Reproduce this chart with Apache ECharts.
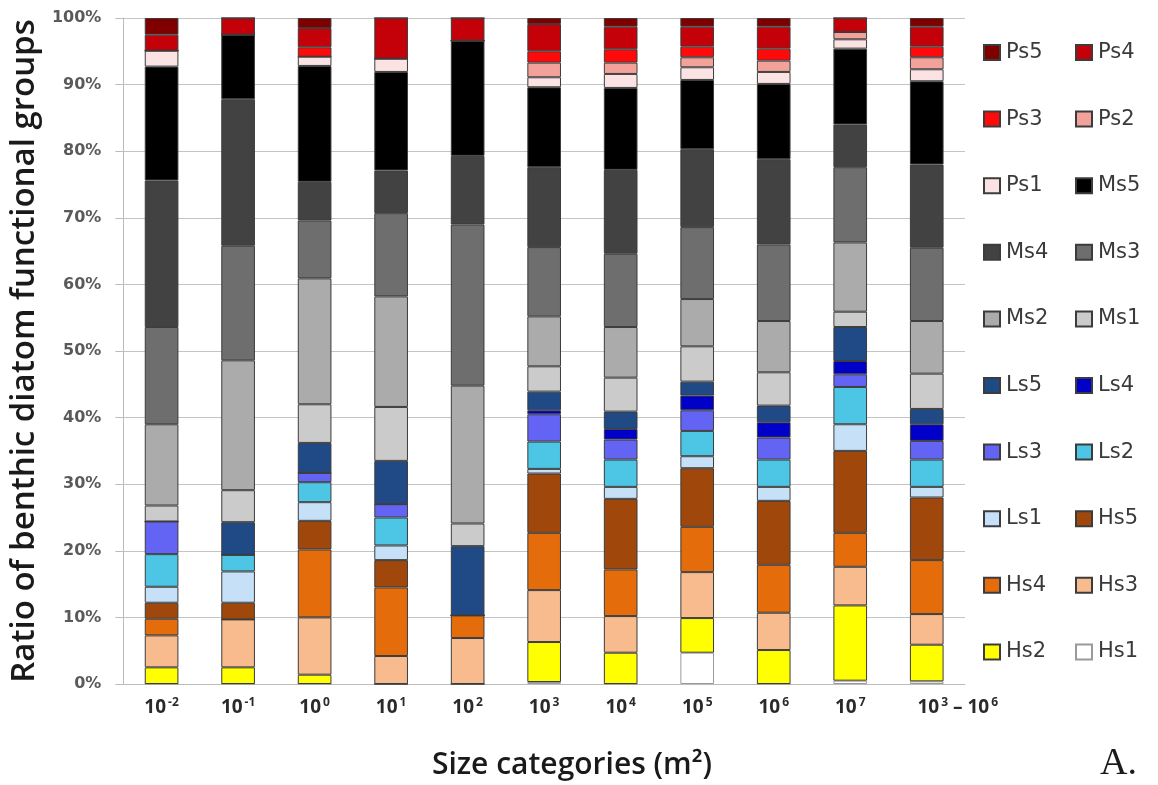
<!DOCTYPE html>
<html>
<head>
<meta charset="utf-8">
<script src="https://cdn.jsdelivr.net/npm/echarts@6/dist/echarts.min.js"></script>
<style>
html,body{margin:0;padding:0;background:#fff;}
#chart{width:1158px;height:785px;}
</style>
</head>
<body>
<div id="chart"></div>
<script>
// Categories: base^exponent; last one is a range
const categories = ['10^-2','10^-1','10^0','10^1','10^2','10^3','10^4','10^5','10^6','10^7','10^3-10^6'];
const yTicks = [0,10,20,30,40,50,60,70,80,90,100];

// Series values (% of total), one value per category
const Hs1 = [0, 0, 0, 0, 0, 0.3, 0, 4.7, 0, 0.5, 0.4];
const Hs2 = [2.5, 2.5, 1.4, 0, 0, 6.0, 4.7, 5.2, 5.1, 11.3, 5.5];
const Hs3 = [4.8, 7.2, 8.6, 4.2, 6.9, 7.8, 5.5, 6.9, 5.6, 5.8, 4.6];
const Hs4 = [2.5, 0, 10.2, 10.3, 3.4, 8.6, 7.0, 6.8, 7.2, 5.1, 8.1];
const Hs5 = [2.4, 2.5, 4.3, 4.1, 0, 8.9, 10.6, 8.8, 9.6, 12.3, 9.4];
const Ls1 = [2.4, 4.7, 2.8, 2.2, 0, 0.7, 1.8, 1.8, 2.1, 4.0, 1.6];
const Ls2 = [4.9, 2.5, 3.0, 4.2, 0, 4.1, 4.1, 3.8, 4.1, 5.6, 4.1];
const Ls3 = [4.9, 0, 1.4, 2.0, 0, 4.1, 3.0, 3.1, 3.3, 1.9, 2.8];
const Ls4 = [0, 0, 0, 0, 0, 0.6, 1.6, 2.2, 2.3, 2.0, 2.5];
const Ls5 = [0, 4.9, 4.5, 6.5, 10.4, 2.8, 2.6, 2.1, 2.5, 5.1, 2.3];
const Ms1 = [2.4, 4.8, 5.8, 8.1, 3.4, 3.8, 5.1, 5.3, 5.0, 2.3, 5.3];
const Ms2 = [12.2, 19.5, 18.9, 16.6, 20.7, 7.5, 7.6, 7.1, 7.7, 10.4, 7.9];
const Ms3 = [14.6, 17.2, 8.7, 12.5, 24.2, 10.4, 11.0, 10.8, 11.5, 11.3, 11.0];
const Ms4 = [22.0, 22.0, 5.8, 6.4, 10.3, 12.0, 12.6, 11.7, 12.8, 6.4, 12.5];
const Ms5 = [17.1, 9.7, 17.4, 14.8, 17.3, 12.0, 12.3, 10.4, 11.3, 11.4, 12.5];
const Ps1 = [2.4, 0, 1.4, 2.0, 0, 1.5, 2.1, 1.9, 1.8, 1.4, 1.8];
const Ps2 = [0, 0, 0, 0, 0, 2.2, 1.7, 1.5, 1.7, 1.1, 1.8];
const Ps3 = [0, 0, 1.4, 0, 0, 1.7, 2.0, 1.6, 1.8, 0, 1.6];
const Ps4 = [2.4, 2.5, 2.9, 6.1, 3.4, 4.1, 3.4, 3.0, 3.3, 2.1, 3.0];
const Ps5 = [2.5, 0, 1.5, 0, 0, 0.9, 1.3, 1.3, 1.3, 0, 1.3];

const seriesNames = ['Hs1','Hs2','Hs3','Hs4','Hs5','Ls1','Ls2','Ls3','Ls4','Ls5','Ms1','Ms2','Ms3','Ms4','Ms5','Ps1','Ps2','Ps3','Ps4','Ps5'];
const seriesValues = [Hs1,Hs2,Hs3,Hs4,Hs5,Ls1,Ls2,Ls3,Ls4,Ls5,Ms1,Ms2,Ms3,Ms4,Ms5,Ps1,Ps2,Ps3,Ps4,Ps5];
const seriesColors = ['#ffffff','#ffff00','#f8bb8e','#e46c0a','#a0480c',
  '#c6e0f8','#4cc6e4','#6464f4','#0000c8','#1f4a86',
  '#cbcbcb','#ababab','#6e6e6e','#424242','#000000',
  '#fbe3e3','#f2a29a','#ff0a0a','#c40008','#800000'];

const legendCol1 = ['Ps5','Ps3','Ps1','Ms4','Ms2','Ls5','Ls3','Ls1','Hs4','Hs2'];
const legendCol2 = ['Ps4','Ps2','Ms5','Ms3','Ms1','Ls4','Ls2','Hs5','Hs3','Hs1'];

const chart = echarts.init(document.getElementById('chart'), null, {renderer:'canvas'});

const series = seriesNames.map((n,i)=>({
  name:n, type:'bar', stack:'total', barWidth:'44%',
  data: seriesValues[i],
  itemStyle:{color:seriesColors[i], borderColor: n==='Hs1' ? '#9a9a9a' : '#3c3c3c', borderWidth:1},
  emphasis:{disabled:true}
}));

const legendCommon = {
  orient:'vertical', itemWidth:16, itemHeight:15, itemGap:45.6,
  icon:'rect', selectedMode:false,
  textStyle:{fontFamily:'DejaVu Sans', fontSize:21, color:'#3a3a3a', lineHeight:20, padding:[0,0,0,1]}
};

function fmtCat(v){
  const one = s => { const p = s.split('^'); return '{b|'+p[0]+'}{s|'+p[1]+'}'; };
  const idx = v.indexOf('-10^');
  if (idx>0) return '{gap|}' + one(v.slice(0,idx)) + '{d| – }' + one(v.slice(idx+1));
  return one(v);
}

chart.setOption({
  animation:false,
  backgroundColor:'#ffffff',
  grid:{left:122, right:193, top:18, bottom:101},
  legend:[
    Object.assign({data:legendCol1, left:978, top:37}, legendCommon),
    Object.assign({data:legendCol2, left:1070, top:37}, legendCommon)
  ],
  xAxis:{
    type:'category', data:categories,
    axisLine:{show:true, lineStyle:{color:'#bcbcbc', width:1}},
    axisTick:{show:false},
    axisLabel:{
      margin:13, interval:0,
      formatter:fmtCat,
      rich:{
        b:{fontFamily:'Open Sans', fontWeight:'bold', fontSize:19, color:'#2a2a2a'},
        d:{fontFamily:'Open Sans', fontWeight:'bold', fontSize:19, color:'#2a2a2a'},
        s:{fontFamily:'Open Sans', fontWeight:'bold', fontSize:12, color:'#2a2a2a', padding:[0,0,10,2]},
        gap:{width:62}
      }
    }
  },
  yAxis:{
    type:'value', min:0, max:100, interval:10,
    axisLine:{show:true, lineStyle:{color:'#bcbcbc', width:1}},
    axisTick:{show:true, length:8, lineStyle:{color:'#bcbcbc'}},
    splitLine:{show:true, lineStyle:{color:'#c4c4c4', width:1}},
    axisLabel:{
      margin:22, fontFamily:'DejaVu Sans', fontWeight:'bold', fontSize:16, color:'#5a5a5a',
      formatter: v => (yTicks.indexOf(v)>=0 ? v+'%' : '')
    },
    name:'Ratio of benthic diatom functional groups', nameLocation:'middle', nameGap:76, nameRotate:90,
    nameTextStyle:{fontFamily:'Open Sans', fontWeight:600, fontSize:33, color:'#1a1a1a'}
  },
  graphic:[{
    type:'text', x:572, y:765,
    style:{text:'Size categories (m²)', font:'600 30px "Open Sans"', fill:'#1a1a1a', textAlign:'center', textVerticalAlign:'middle'}
  },{
    type:'text', left:1100, top:745,
    style:{text:'A.', font:'38px "Liberation Serif"', fill:'#1a1a1a'}
  }],
  series: series
});
</script>
</body>
</html>
